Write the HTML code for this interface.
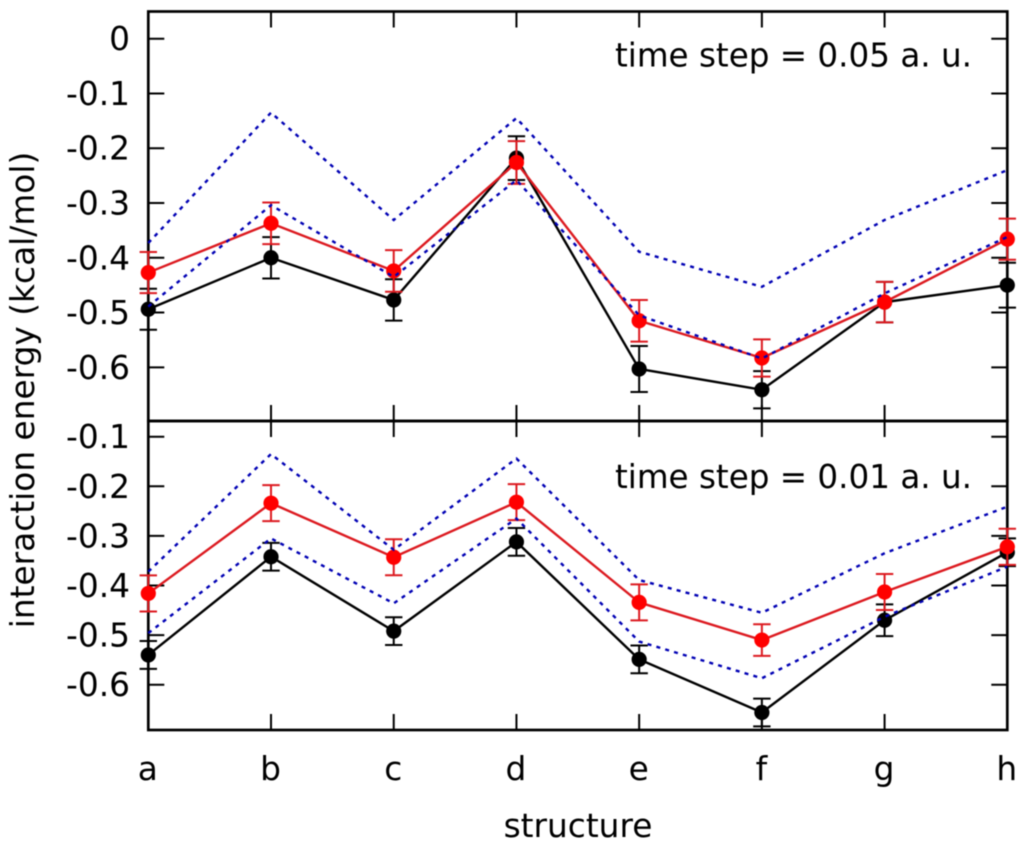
<!DOCTYPE html>
<html lang="en">
<head>
<meta charset="utf-8">
<title>Interaction energy by structure</title>
<style>
  html, body { margin: 0; padding: 0; background: #fff; }
  body { width: 1024px; height: 849px; overflow: hidden; }
  svg { display: block; filter: blur(0.4px); }
  text { font-family: "DejaVu Sans", "Liberation Sans", sans-serif; fill: #000; }
</style>
</head>
<body>
<svg id="chart" xmlns="http://www.w3.org/2000/svg" width="1024" height="849" viewBox="0 0 1024 849">
  <rect x="0" y="0" width="1024" height="849" fill="#fff"/>
  <g id="panels"></g>
  <text transform="translate(34,390) rotate(-90)" text-anchor="middle" font-size="32.8">interaction energy (kcal/mol)</text>
  <text x="578" y="837" text-anchor="middle" font-size="32.8">structure</text>
  <text x="615" y="66.7" font-size="32.6">time step = 0.05 a. u.</text>
  <text x="615" y="488" font-size="32.6">time step = 0.01 a. u.</text>
</svg>
<script>
const categories = ['a', 'b', 'c', 'd', 'e', 'f', 'g', 'h'];

const topTicks = [0, -0.1, -0.2, -0.3, -0.4, -0.5, -0.6];
const topTickLabels = ['0', '-0.1', '-0.2', '-0.3', '-0.4', '-0.5', '-0.6'];
const bottomTicks = [-0.1, -0.2, -0.3, -0.4, -0.5, -0.6];
const bottomTickLabels = ['-0.1', '-0.2', '-0.3', '-0.4', '-0.5', '-0.6'];

const topBlack = [-0.494, -0.400, -0.477, -0.218, -0.603, -0.641, -0.481, -0.450];
const topBlackErr = [0.0375, 0.0378, 0.0378, 0.040, 0.042, 0.034, 0.037, 0.041];
const topRed = [-0.427, -0.337, -0.424, -0.226, -0.515, -0.583, -0.481, -0.366];
const topRedErr = [0.0375, 0.038, 0.038, 0.039, 0.038, 0.034, 0.037, 0.0375];
const topBlueUpper = [-0.373, -0.135, -0.331, -0.145, -0.389, -0.453, -0.331, -0.240];
const topBlueLower = [-0.489, -0.304, -0.435, -0.258, -0.505, -0.584, -0.465, -0.362];

const bottomBlack = [-0.540, -0.342, -0.492, -0.312, -0.549, -0.656, -0.470, -0.333];
const bottomBlackErr = [0.028, 0.028, 0.028, 0.028, 0.028, 0.028, 0.032, 0.028];
const bottomRed = [-0.416, -0.234, -0.343, -0.232, -0.434, -0.510, -0.413, -0.322];
const bottomRedErr = [0.0363, 0.0363, 0.0363, 0.0363, 0.0363, 0.032, 0.0363, 0.0363];
const bottomBlueUpper = [-0.372, -0.135, -0.328, -0.144, -0.389, -0.455, -0.335, -0.241];
const bottomBlueLower = [-0.496, -0.305, -0.436, -0.265, -0.513, -0.587, -0.463, -0.362];

const NS = 'http://www.w3.org/2000/svg';
const frameLeft = 148.3;
const frameRight = 1007.3;
const topPanelTop = 11.5;
const panelSplit = 421;
const bottomPanelBottom = 730;
const tickLength = 16;
const capHalf = 8.7;
const markerRadius = 7.6;

function xScale(i) {
  return frameLeft + i * (frameRight - frameLeft) / (categories.length - 1);
}
function yTop(v) {
  return 38.7 - v * 547.7;
}
function yBottom(v) {
  return 436.7 + (-v - 0.1) * 496;
}

function add(parent, tag, attrs) {
  const el = document.createElementNS(NS, tag);
  for (const k in attrs) el.setAttribute(k, attrs[k]);
  parent.appendChild(el);
  return el;
}

function drawAxes(root, ticks, labels, yScale, yA, yB, isTop) {
  const axes = add(root, 'g', {});
  
  

  const frame = add(axes, 'rect', {
    x: frameLeft, y: yA, width: frameRight - frameLeft, height: yB - yA,
    fill: 'none', stroke: '#000', 'stroke-width': 2.7
  });
  
  

  ticks.forEach(function (t, i) {
    const y = yScale(t);
    const left = add(axes, 'line', { x1: frameLeft, x2: frameLeft + tickLength, y1: y, y2: y, stroke: '#000', 'stroke-width': 2 });
    
    
    const right = add(axes, 'line', { x1: frameRight - tickLength, x2: frameRight, y1: y, y2: y, stroke: '#000', 'stroke-width': 2 });
    
    
    const label = add(axes, 'text', { x: 130, y: y + 11.5, 'text-anchor': 'end', 'font-size': 32.8 });
    label.textContent = labels[i];
    
    
  });

  categories.forEach(function (c, i) {
    const x = xScale(i);
    const up = add(axes, 'line', { x1: x, x2: x, y1: yA, y2: yA + tickLength, stroke: '#000', 'stroke-width': 2 });
    
    
    const down = add(axes, 'line', { x1: x, x2: x, y1: yB - tickLength, y2: yB, stroke: '#000', 'stroke-width': 2 });
    
    
    if (!isTop) {
      const label = add(axes, 'text', { x: x - 0.5, y: 780, 'text-anchor': 'middle', 'font-size': 32.8 });
      label.textContent = c;
      
      
    }
  });
}

function polyPoints(values, yScale) {
  return values.map(function (v, i) { return xScale(i) + ',' + yScale(v); }).join(' ');
}

function drawSeries(root, values, errs, yScale, color, markerColor, name) {
  const g = add(root, 'g', {});
  
  

  const line = add(g, 'polyline', { points: polyPoints(values, yScale), fill: 'none', stroke: color, 'stroke-width': 2.4 });
  
  

  values.forEach(function (v, i) {
    const x = xScale(i);
    const yHi = yScale(v + errs[i]);
    const yLo = yScale(v - errs[i]);
    const stem = add(g, 'line', { x1: x, x2: x, y1: yHi, y2: yLo, stroke: color, 'stroke-width': 2 });
    
    
    const capTop = add(g, 'line', { x1: x - capHalf, x2: x + capHalf, y1: yHi, y2: yHi, stroke: color, 'stroke-width': 2 });
    
    
    const capBottom = add(g, 'line', { x1: x - capHalf, x2: x + capHalf, y1: yLo, y2: yLo, stroke: color, 'stroke-width': 2 });
    
    
    const dot = add(g, 'circle', { cx: x, cy: yScale(v), r: markerRadius, fill: markerColor });
    
    
  });
}

function drawBound(root, values, yScale, name) {
  const line = add(root, 'polyline', {
    points: polyPoints(values, yScale), fill: 'none', stroke: '#0000b4',
    'stroke-width': 2.4, 'stroke-dasharray': '4 5.2'
  });
  
  
}

const root = document.getElementById('panels');

drawAxes(root, topTicks, topTickLabels, yTop, topPanelTop, panelSplit, true);
drawSeries(root, topBlack, topBlackErr, yTop, '#000', '#000', 'top-black-series');
drawSeries(root, topRed, topRedErr, yTop, '#dc1a20', '#ff0000', 'top-red-series');
drawBound(root, topBlueUpper, yTop, 'top-blue-upper-bound');
drawBound(root, topBlueLower, yTop, 'top-blue-lower-bound');

drawAxes(root, bottomTicks, bottomTickLabels, yBottom, panelSplit, bottomPanelBottom, false);
drawSeries(root, bottomBlack, bottomBlackErr, yBottom, '#000', '#000', 'bottom-black-series');
drawSeries(root, bottomRed, bottomRedErr, yBottom, '#dc1a20', '#ff0000', 'bottom-red-series');
drawBound(root, bottomBlueUpper, yBottom, 'bottom-blue-upper-bound');
drawBound(root, bottomBlueLower, yBottom, 'bottom-blue-lower-bound');
</script>
</body>
</html>
